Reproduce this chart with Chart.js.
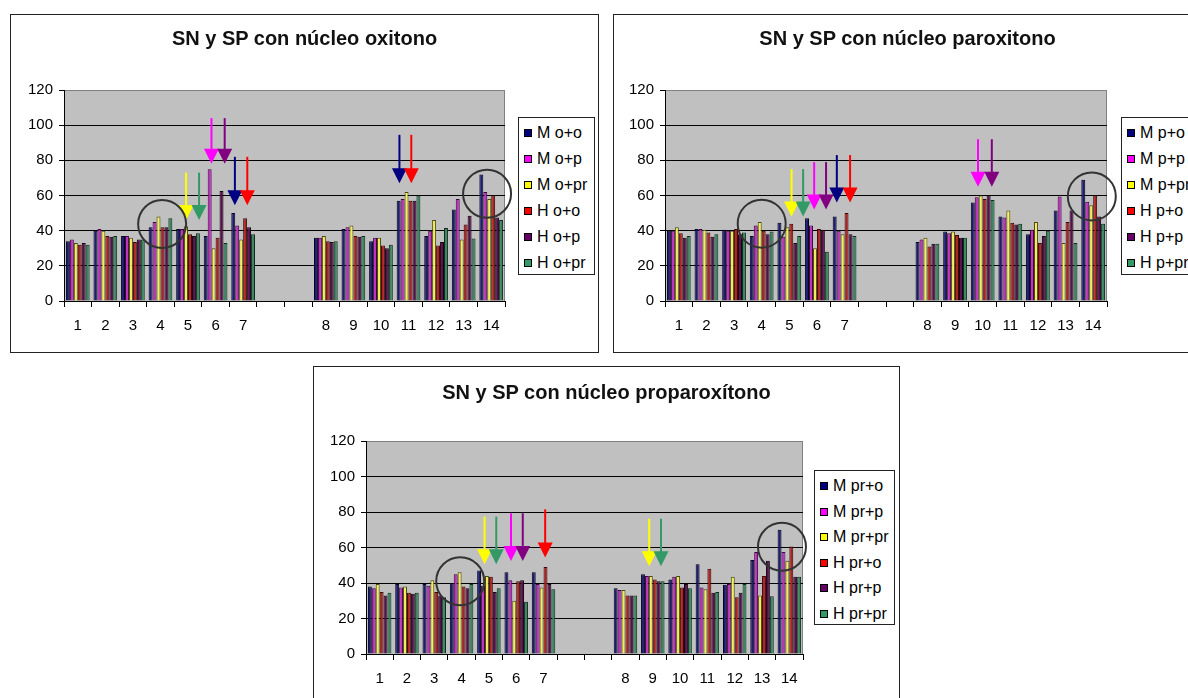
<!DOCTYPE html>
<html>
<head>
<meta charset="utf-8">
<title>SN y SP</title>
<script src="https://cdn.jsdelivr.net/npm/chart.js@4.4.0/dist/chart.umd.min.js"></script>
<style>
    body {
        margin: 0;
        width: 1188px;
        height: 698px;
        overflow: hidden;
        position: relative;
        background: #fff;
        font-family: Arial, "Liberation Sans", sans-serif;
    }
    .panel {
        position: absolute;
        border: 1px solid #222;
        background: #fff;
        overflow: hidden;
    }
    .panel canvas {
        position: absolute;
        left: 0;
        top: 0;
    }
    .chart-title {
        position: absolute;
        left: 0;
        width: 100%;
        text-align: center;
        font-size: 20px;
        line-height: 24px;
        font-weight: bold;
        color: #111;
        white-space: nowrap;
    }
    .legend {
        position: absolute;
        box-sizing: border-box;
        border: 1px solid #222;
        background: #fff;
    }
    .legend-item {
        position: absolute;
        left: 5px;
        font-size: 16px;
        line-height: 16px;
        white-space: nowrap;
        color: #000;
    }
    .legend-item span {
        display: inline-block;
        width: 6px;
        height: 6px;
        border: 1px solid #000;
        margin-right: 5px;
        vertical-align: 1px;
    }
</style>
</head>
<body>

<div class="panel" style="left:10px; top:14px; width:587px; height:337px;">
    <canvas id="chartOxi" width="587" height="337"></canvas>
    <div class="chart-title" style="top:11px;">SN y SP con núcleo oxitono</div>
    <div class="legend" id="legendOxi" style="left:507px; top:102px; width:77px; height:158px;"></div>
</div>

<div class="panel" style="left:613px; top:14px; width:587px; height:337px;">
    <canvas id="chartParox" width="587" height="337"></canvas>
    <div class="chart-title" style="top:11px;">SN y SP con núcleo paroxitono</div>
    <div class="legend" id="legendParox" style="left:507px; top:102px; width:77px; height:158px;"></div>
</div>

<div class="panel" style="left:313px; top:366px; width:585px; height:337px;">
    <canvas id="chartProparox" width="585" height="337"></canvas>
    <div class="chart-title" style="top:13px;">SN y SP con núcleo proparoxítono</div>
    <div class="legend" id="legendProparox" style="left:500px; top:103px; width:81px; height:155px;"></div>
</div>

<script>
// Categories: 7 items, two empty slots, then 7 more
const categories = ['1', '2', '3', '4', '5', '6', '7', '', '', '8', '9', '10', '11', '12', '13', '14'];
const yTicks = [0, 20, 40, 60, 80, 100, 120];

// --- núcleo oxitono ---
const oxiNames = ['M o+o', 'M o+p', 'M o+pr', 'H o+o', 'H o+p', 'H o+pr'];
const oxiMoo  = [34, 40, 37, 42, 41, 37, 50, 36, 41, 34, 57, 37, 52, 72];
const oxiMop  = [35, 41, 37, 45, 41, 75, 43, 36, 42, 36, 58, 40, 58, 62];
const oxiMopr = [33, 40, 36, 48, 42.5, 30, 35, 37, 43, 36, 62, 46, 35, 58];
const oxiHoo  = [32, 37, 33.5, 42, 38, 36, 47, 34, 37, 31.5, 57, 31.5, 43.5, 60];
const oxiHop  = [33, 36.5, 35, 42, 37, 62.5, 42, 33.5, 36.5, 30, 57, 33.5, 48.5, 47.5];
const oxiHopr = [32, 37, 35, 47, 38.5, 33, 38, 34, 37, 32, 60, 41.5, 35.5, 46];

// --- núcleo paroxitono ---
const paroxNames = ['M p+o', 'M p+p', 'M p+pr', 'H p+o', 'H p+p', 'H p+pr'];
const paroxMpo  = [40, 41, 40.5, 37, 44.5, 47, 48, 33.5, 39.5, 56, 48, 38, 51.5, 69];
const paroxMpp  = [40, 41, 40, 43, 36.5, 43, 40, 35, 38.5, 59, 47.5, 40.5, 59.5, 56.5];
const paroxMppr = [42, 40.5, 40, 45, 42, 30, 38, 36, 39.5, 60, 51.5, 45, 33, 54.5];
const paroxHpo  = [38.5, 39, 41, 40, 44, 41, 50, 31, 37.5, 58, 44.5, 33, 45, 60];
const paroxHpp  = [36, 36.5, 38, 38, 33, 40.5, 38, 32.5, 36, 60, 43.5, 37, 51.5, 48];
const paroxHppr = [37, 38, 39, 39.5, 37, 28, 37, 32.5, 36, 57.5, 44, 40, 33, 44];

// --- núcleo proparoxitono ---
const proparoxNames = ['M pr+o', 'M pr+p', 'M pr+pr', 'H pr+o', 'H pr+p', 'H pr+pr'];
const proparoxMpro  = [38, 39.5, 39.5, 40, 47, 46, 46, 37, 45, 42, 50.5, 39, 53, 70];
const proparoxMprp  = [37, 37.5, 38.5, 45, 38.5, 41.5, 39.5, 36, 44, 43.5, 37.5, 39.5, 57.5, 57.5];
const proparoxMprpr = [39.5, 38, 41.5, 46, 44, 30, 37.5, 36, 44, 44, 36.5, 43.5, 33, 52.5];
const proparoxHpro  = [35, 34.5, 35, 38, 43.5, 41, 49, 33, 42, 37.5, 48, 32, 44, 60.5];
const proparoxHprp  = [33, 34, 33, 37, 35, 41.5, 39.5, 33, 41, 39.5, 34.5, 34.5, 52.5, 43.5];
const proparoxHprpr = [34.5, 34.5, 32, 39.5, 37, 29.5, 36.5, 33, 41, 37, 35, 39.5, 32.5, 43.5];

// Highlight arrows: category index, shift within the slot, start and tip value
const oxiArrows = [
    { at: 4, shift: -0.07, from: 73, to: 46, color: '#ffff00' },
    { at: 4, shift: 0.40, from: 73, to: 46, color: '#339966' },
    { at: 5, shift: -0.15, from: 104, to: 78, color: '#ff00ff' },
    { at: 5, shift: 0.33, from: 104, to: 78, color: '#800080' },
    { at: 6, shift: -0.30, from: 82, to: 54.5, color: '#000080' },
    { at: 6, shift: 0.15, from: 82, to: 54.5, color: '#ff0000' },
    { at: 12, shift: -0.33, from: 94.5, to: 67, color: '#000080' },
    { at: 12, shift: 0.10, from: 94.5, to: 67, color: '#ff0000' }
];
const oxiCircles = [
    { at: 3, shift: 0.06, value: 43.8 },
    { at: 15, shift: -0.15, value: 61 }
];

const paroxArrows = [
    { at: 4, shift: 0.08, from: 75, to: 48, color: '#ffff00' },
    { at: 4, shift: 0.50, from: 75, to: 48, color: '#339966' },
    { at: 5, shift: -0.10, from: 79, to: 52, color: '#ff00ff' },
    { at: 5, shift: 0.33, from: 79, to: 52, color: '#800080' },
    { at: 6, shift: -0.28, from: 83, to: 56, color: '#000080' },
    { at: 6, shift: 0.20, from: 83, to: 56, color: '#ff0000' },
    { at: 11, shift: -0.17, from: 92, to: 65, color: '#ff00ff' },
    { at: 11, shift: 0.33, from: 92, to: 65, color: '#800080' }
];
const paroxCircles = [
    { at: 3, shift: 0, value: 44 },
    { at: 15, shift: -0.05, value: 59.5 }
];

const proparoxArrows = [
    { at: 4, shift: -0.16, from: 77.4, to: 50.6, color: '#ffff00' },
    { at: 4, shift: 0.27, from: 77.4, to: 50.6, color: '#339966' },
    { at: 5, shift: -0.19, from: 79.3, to: 52.4, color: '#ff00ff' },
    { at: 5, shift: 0.24, from: 79.3, to: 52.4, color: '#800080' },
    { at: 6, shift: 0.06, from: 81.5, to: 54.4, color: '#ff0000' },
    { at: 10, shift: -0.13, from: 76.2, to: 49.4, color: '#ffff00' },
    { at: 10, shift: 0.30, from: 76.2, to: 49.4, color: '#339966' }
];
const proparoxCircles = [
    { at: 3, shift: -0.05, value: 41 },
    { at: 15, shift: -0.27, value: 60.4 }
];

const barColors = ['#1c1c70', '#c030c0', '#f4ee5c', '#b02222', '#561050', '#3a8660'];
const barEdges = ['#030320', '#3c063c', '#4a4610', '#3a0606', '#14020f', '#0e2c1c'];
const legendColors = ['#000080', '#ff00ff', '#ffff00', '#ff0000', '#660066', '#339966'];

const FONT = 'Arial, "Liberation Sans", sans-serif';

/**
 * Inserts the two empty slots between item 7 and item 8.
 */
function withGap(values) {
    return [...values.slice(0, 7), null, null, ...values.slice(7)];
}

/**
 * Grey plot background with a grey frame, like an old spreadsheet chart.
 */
const plotBackground = {
    id: 'plotBackground',
    beforeDraw(chart) {
        const { ctx, chartArea: a } = chart;
        ctx.save();
        ctx.fillStyle = '#c0c0c0';
        ctx.fillRect(a.left, a.top, a.right - a.left, a.bottom - a.top);
        ctx.strokeStyle = '#808080';
        ctx.lineWidth = 1;
        ctx.strokeRect(a.left + 0.5, a.top + 0.5, a.right - a.left - 1, a.bottom - a.top);
        ctx.restore();
    }
};

/**
 * Draws the arrows and circles placed on the category / value scales.
 */
const highlightMarks = {
    id: 'highlightMarks',
    afterDatasetsDraw(chart, args, opts) {
        const { ctx } = chart;
        const x = chart.scales.x;
        const y = chart.scales.y;
        const slot = x.getPixelForValue(1) - x.getPixelForValue(0);

        ctx.save();
        (opts.arrows || []).forEach(a => {
            const px = x.getPixelForValue(a.at) + a.shift * slot;
            const top = y.getPixelForValue(a.from);
            const tip = y.getPixelForValue(a.to);
            const headH = 15;
            ctx.strokeStyle = a.color;
            ctx.fillStyle = a.color;
            ctx.lineWidth = 2;
            ctx.beginPath();
            ctx.moveTo(px, top);
            ctx.lineTo(px, tip - headH + 1);
            ctx.stroke();
            ctx.beginPath();
            ctx.moveTo(px - 7.5, tip - headH);
            ctx.lineTo(px + 7.5, tip - headH);
            ctx.lineTo(px, tip);
            ctx.closePath();
            ctx.fill();
        });

        (opts.circles || []).forEach(c => {
            const px = x.getPixelForValue(c.at) + c.shift * slot;
            const py = y.getPixelForValue(c.value);
            ctx.strokeStyle = '#333';
            ctx.lineWidth = 2;
            ctx.beginPath();
            ctx.arc(px, py, 24, 0, Math.PI * 2);
            ctx.stroke();
        });
        ctx.restore();
    }
};

/**
 * Builds the boxed legend next to a chart.
 */
function buildLegend(legendId, names, rowStep) {
    const box = document.getElementById(legendId);
    names.forEach((name, i) => {
        const item = document.createElement('div');
        item.className = 'legend-item';
        item.style.top = (7 + i * rowStep) + 'px';
        const swatch = document.createElement('span');
        swatch.style.background = legendColors[i];
        item.appendChild(swatch);
        item.appendChild(document.createTextNode(name));
        box.appendChild(item);
    });
}

/**
 * Creates one grouped bar chart.
 * area holds the plot rectangle inside the canvas.
 */
function buildChart(canvasId, names, series, arrows, circles, area) {
    const canvas = document.getElementById(canvasId);
    const W = canvas.width;
    const H = canvas.height;

    new Chart(canvas, {
        type: 'bar',
        data: {
            labels: categories,
            datasets: series.map((values, i) => ({
                label: names[i],
                data: withGap(values),
                backgroundColor: barColors[i],
                borderColor: barEdges[i],
                borderWidth: 1,
                borderSkipped: 'start',
                categoryPercentage: 0.86,
                barPercentage: 1
            }))
        },
        options: {
            responsive: false,
            animation: false,
            devicePixelRatio: 1,
            layout: {
                padding: { left: 0, top: area.top, bottom: 0, right: W - area.right }
            },
            plugins: {
                legend: { display: false },
                tooltip: { enabled: false },
                title: { display: false },
                highlightMarks: { arrows: arrows, circles: circles }
            },
            scales: {
                x: {
                    grid: {
                        drawOnChartArea: false,
                        offset: true,
                        color: '#000',
                        tickLength: 6
                    },
                    border: { color: '#000' },
                    ticks: {
                        color: '#000',
                        font: { family: FONT, size: 15 },
                        padding: 10,
                        autoSkip: false,
                        maxRotation: 0
                    },
                    afterFit: scale => { scale.height = H - area.bottom; }
                },
                y: {
                    min: 0,
                    max: 120,
                    afterBuildTicks: scale => { scale.ticks = yTicks.map(v => ({ value: v })); },
                    grid: {
                        color: c => (c.tick && c.tick.value === 120 ? '#808080' : '#000'),
                        tickColor: '#000',
                        tickLength: 5
                    },
                    border: { color: '#000' },
                    ticks: {
                        color: '#000',
                        font: { family: FONT, size: 15 },
                        padding: 6
                    },
                    afterFit: scale => { scale.width = area.left; }
                }
            }
        },
        plugins: [plotBackground, highlightMarks]
    });
}

function init() {
    buildChart('chartOxi', oxiNames,
        [oxiMoo, oxiMop, oxiMopr, oxiHoo, oxiHop, oxiHopr],
        oxiArrows, oxiCircles,
        { left: 53, right: 494, top: 75, bottom: 286 });
    buildLegend('legendOxi', oxiNames, 26);

    buildChart('chartParox', paroxNames,
        [paroxMpo, paroxMpp, paroxMppr, paroxHpo, paroxHpp, paroxHppr],
        paroxArrows, paroxCircles,
        { left: 51, right: 493, top: 75, bottom: 286 });
    buildLegend('legendParox', paroxNames, 26);

    buildChart('chartProparox', proparoxNames,
        [proparoxMpro, proparoxMprp, proparoxMprpr, proparoxHpro, proparoxHprp, proparoxHprpr],
        proparoxArrows, proparoxCircles,
        { left: 52, right: 489, top: 74, bottom: 287 });
    buildLegend('legendProparox', proparoxNames, 25.6);
}

document.addEventListener('DOMContentLoaded', init);
</script>
</body>
</html>
